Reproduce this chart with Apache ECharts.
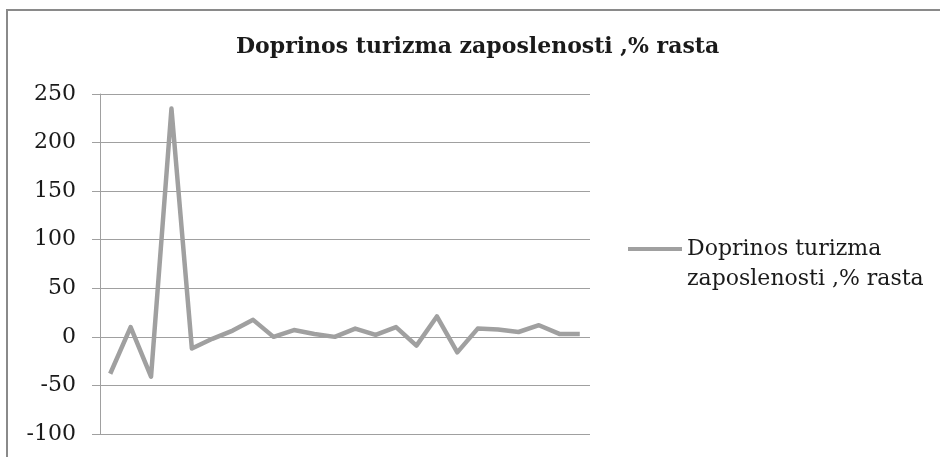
<!DOCTYPE html>
<html>
<head>
<meta charset="utf-8">
<script src="https://cdn.jsdelivr.net/npm/echarts@6/dist/echarts.min.js"></script>
<style>html,body{margin:0;padding:0;background:#fff;}#c{width:940px;height:457px;}</style>
</head>
<body>
<div id="c"></div>
<script>
var titleText = 'Doprinos turizma zaposlenosti ,% rasta';
var seriesName = 'Doprinos turizma zaposlenosti ,% rasta';
var categories = ['1','2','3','4','5','6','7','8','9','10','11','12','13','14','15','16','17','18','19','20','21','22','23','24'];
var values = [-38, 10, -41, 235, -12, -2, 6.5, 17.5, 0, 7, 3, 0, 8.5, 2, 10, -9, 21, -16, 8.5, 7.5, 5, 12, 3, 3];
var yMin = -100, yMax = 250, yStep = 50;

var chart = echarts.init(document.getElementById('c'), null, {renderer: 'canvas'});
var font = '"DejaVu Serif", "Liberation Serif", serif';
chart.setOption({
  animation: false,
  backgroundColor: '#fff',
  title: {
    text: titleText,
    left: 236,
    top: 36,
    padding: 0,
    textStyle: {fontFamily: font, fontSize: 22, fontWeight: 'bold', color: '#1a1a1a'}
  },
  legend: {
    left: 628,
    top: 204,
    padding: 0,
    orient: 'vertical',
    icon: 'rect',
    itemWidth: 54,
    itemHeight: 4,
    formatter: function () { return '\nDoprinos turizma\nzaposlenosti ,% rasta'; },
    textStyle: {fontFamily: font, fontSize: 22, color: '#1a1a1a', lineHeight: 30},
    data: [seriesName]
  },
  graphic: [{
    type: 'rect',
    shape: {x: 7, y: 10, width: 1000, height: 600},
    style: {fill: 'none', stroke: '#8a8a8a', lineWidth: 2},
    silent: true
  }],
  grid: {left: 100, right: 350, top: 94, bottom: 23},
  xAxis: {
    type: 'category',
    data: categories,
    boundaryGap: true,
    axisLine: {show: false},
    axisTick: {show: false},
    axisLabel: {show: false},
    splitLine: {show: false}
  },
  yAxis: {
    type: 'value',
    min: yMin,
    max: yMax,
    interval: yStep,
    axisLine: {show: true, lineStyle: {color: '#a0a0a0', width: 1}},
    axisTick: {show: true, length: 8, lineStyle: {color: '#a0a0a0'}},
    axisLabel: {margin: 24, fontFamily: font, fontSize: 22, color: '#1a1a1a'},
    splitLine: {show: true, lineStyle: {color: '#a0a0a0', width: 1}}
  },
  series: [{
    name: seriesName,
    type: 'line',
    data: values,
    showSymbol: false,
    symbol: 'none',
    lineStyle: {color: '#a0a0a0', width: 4.5, join: 'round'},
    itemStyle: {color: '#a0a0a0'}
  }]
});
</script>
</body>
</html>
